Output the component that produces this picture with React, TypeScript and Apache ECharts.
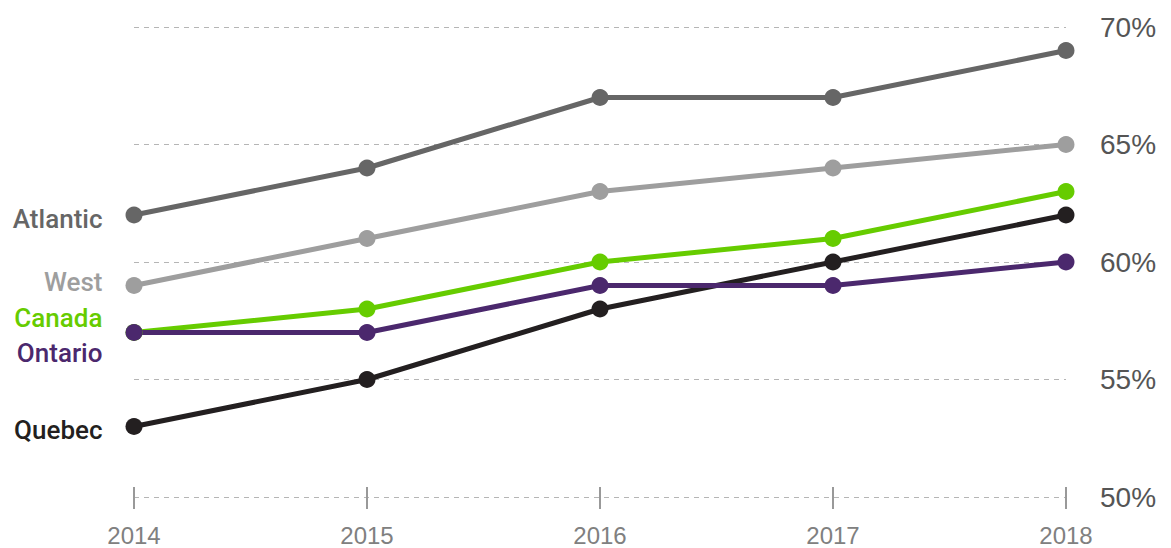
import React, { useEffect, useRef } from "react";
import * as echarts from "echarts";

const years = ["2014", "2015", "2016", "2017", "2018"];
const atlantic = [62, 64, 67, 67, 69];
const west = [59, 61, 63, 64, 65];
const quebec = [53, 55, 58, 60, 62];
const canada = [57, 58, 60, 61, 63];
const ontario = [57, 57, 59, 59, 60];

const FONT = "'Helvetica Neue', Helvetica, Arial, 'Liberation Sans', sans-serif";
const NAME_FONT = "Roboto, 'Helvetica Neue', Arial, sans-serif";

function mkSeries(name: string, data: number[], color: string, dy: number) {
  return {
    name,
    type: "line",
    data: data.map((v, i) =>
      i === 0
        ? {
            value: v,
            label: {
              show: true,
              position: "left",
              distance: 23,
              offset: [0, dy],
              formatter: name,
              color,
              fontSize: 26,
              fontWeight: 500,
              fontFamily: NAME_FONT,
            },
          }
        : v
    ),
    symbol: "circle",
    symbolSize: 17,
    lineStyle: { color, width: 5 },
    itemStyle: { color },
    label: { show: false },
  };
}

export default function App() {
  const ref = useRef<HTMLDivElement>(null);
  useEffect(() => {
    document.body.style.margin = "0";
    const chart = echarts.init(ref.current!, null, { renderer: "svg" });
    chart.setOption({
      animation: false,
      backgroundColor: "#ffffff",
      grid: { left: 134, right: 105, top: 27, bottom: 51 },
      xAxis: [
        {
          type: "category",
          data: years,
          boundaryGap: false,
          axisLine: { show: false },
          axisTick: { show: true, length: 12, lineStyle: { color: "#999", width: 2 } },
          axisLabel: { color: "#808080", fontSize: 24, fontFamily: FONT, margin: 26 },
          splitLine: { show: false },
        },
        {
          type: "category",
          data: years,
          position: "bottom",
          boundaryGap: false,
          axisLine: { show: false },
          axisTick: { show: true, inside: true, length: 10, lineStyle: { color: "#999", width: 2 } },
          axisLabel: { show: false },
          splitLine: { show: false },
        },
      ],
      yAxis: {
        type: "value",
        position: "right",
        min: 50,
        max: 70,
        interval: 5,
        axisLine: { show: false },
        axisTick: { show: false },
        axisLabel: {
          formatter: "{value}%",
          color: "#555555",
          fontSize: 28,
          fontFamily: FONT,
          margin: 34,
        },
        splitLine: { lineStyle: { color: "#b5b5b5", type: [5, 5], width: 1 } },
      },
      series: [
        mkSeries("Atlantic", atlantic, "#666666", 4),
        mkSeries("West", west, "#9e9e9e", -4),
        mkSeries("Quebec", quebec, "#231f20", 3),
        mkSeries("Canada", canada, "#66cc00", -15),
        mkSeries("Ontario", ontario, "#4b286d", 20),
      ],
    });
    return () => chart.dispose();
  }, []);
  return (
    <div
      ref={ref}
      style={{ position: "fixed", left: 0, top: 0, width: 1171, height: 548 }}
    />
  );
}
